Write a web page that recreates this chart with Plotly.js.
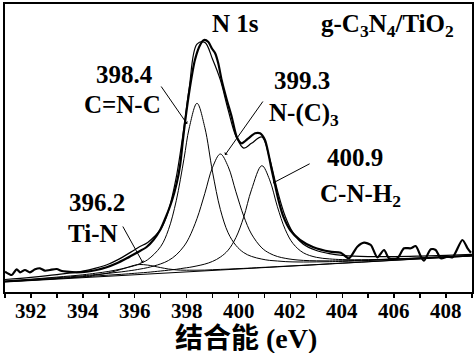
<!DOCTYPE html>
<html>
<head>
<meta charset="utf-8">
<script src="https://cdn.plot.ly/plotly-3.0.1.min.js"></script>
<style>html,body{margin:0;padding:0;background:#fff;}#chart{width:474px;height:353px;}</style>
</head>
<body>
<div id="chart"></div>
<script>
// Common energy grid for the fitted components (binding energy, eV)
const gridEV = [391,392,393,394,394.5,395,395.5,396,396.2,396.5,397,397.3,397.6,397.9,398.1,398.4,398.7,399,399.3,399.6,399.9,400.2,400.5,400.9,401.2,401.5,401.8,402.1,402.5,403,403.5,404,405,406,407,408,409];
// Background (linear) intensity, a.u.
const background = [10.0,11.4,12.9,14.3,15.1,15.8,16.5,17.2,17.5,17.9,18.7,19.1,19.5,20.0,20.3,20.7,21.1,21.6,22.0,22.4,22.9,23.3,23.7,24.3,24.7,25.2,25.6,26.0,26.6,27.3,28.1,28.8,30.2,31.7,33.1,34.6,36.0];
// Component intensities above background
const compTiN  = [0.2,0.3,0.5,1.1,1.8,3.4,6.3,9.6,10.0,9.0,5.7,3.9,2.6,1.8,1.5,1.1,0.8,0.7,0.6,0.5,0.4,0.3,0.3,0.3,0.2,0.2,0.2,0.2,0.1,0.1,0.1,0.1,0.1,0.1,0.1,0,0];
const compCNC  = [1.1,1.4,2.0,2.9,3.7,4.8,6.7,9.2,10.9,14.4,26.7,43.2,71.7,113.4,143.6,168,143.6,98.3,60.6,36.8,23.7,16.1,11.9,8.6,6.9,5.8,4.8,4.1,3.4,2.8,2.2,1.8,1.3,1.0,0.8,0.6,0.5];
const compNC3  = [0.8,1.1,1.4,1.9,2.4,2.9,3.7,4.8,5.4,6.5,9.4,12.4,17.6,25.9,34.3,52.7,77.3,103.1,116,103.1,77.3,52.7,34.3,19.8,14.0,10.3,8.1,6.5,5.0,3.9,3.0,2.4,1.7,1.2,0.9,0.7,0.6];
const compCNH2 = [0.4,0.5,0.6,0.7,0.9,1.1,1.2,1.5,1.6,1.8,2.3,2.7,3.2,3.9,4.3,5.4,6.8,9.0,12.9,19.4,31.5,51.5,78.5,102,87.5,60.0,37.0,22.5,12.6,7.4,5.0,3.6,2.1,1.4,1.0,0.7,0.5];
// Measured spectrum
const dataEV = [391.0,391.26,391.45,391.58,391.77,391.96,392.16,392.35,392.54,392.73,392.99,393.19,393.38,393.76,394.15,394.53,394.92,395.31,395.69,396.08,396.46,396.72,396.98,397.2,397.43,397.62,397.75,397.85,397.94,398.13,398.32,398.52,398.67,398.84,398.97,399.1,399.22,399.35,399.55,399.74,399.93,400.12,400.38,400.64,400.83,401.02,401.15,401.28,401.41,401.54,401.73,401.99,402.37,402.89,403.53,403.94,404.26,404.58,404.84,405.1,405.35,405.61,405.8,406.12,406.38,406.64,406.83,407.02,407.15,407.41,407.6,407.8,408.05,408.25,408.63,408.83,408.96];
const dataI  = [20.3,17,22.7,19.7,22,19.7,22.7,23.7,21.3,22,23,21,20.3,19.7,20.3,22,24.7,28.7,33.7,39.3,45,52,62,75,91,109,127,150,170,205,232,247,252,250,243.7,238.7,228.7,212,192,175,155.3,148.7,153.7,158.7,158.7,152,138.7,122,107,92,75.3,62,52,44.7,40.3,39.3,33.7,45.3,49.3,47,34.7,42,33.7,33.7,43.7,43.7,46,36,31.3,42.7,42,33.7,35.3,34.7,52,43.7,39.3];
// Ticks every 1 eV; labels on even values
const tickVals = [391,392,393,394,395,396,397,398,399,400,401,402,403,404,405,406,407,408,409];
const labelVals = [392,394,396,398,400,402,404,406,408];
const labelText = ['392','394','396','398','400','402','404','406','408'];
const xTitle = '结合能 (eV)';
const labels = [
  {text:'N 1s', x:399.87, y:269},
  {text:'g-C<sub>3</sub>N<sub>4</sub>/TiO<sub>2</sub>', x:405.73, y:267},
  {text:'398.4', x:395.59, y:218},
  {text:'C=N-C', x:395.51, y:188},
  {text:'399.3', x:402.45, y:212},
  {text:'N-(C)<sub>3</sub>', x:402.53, y:178},
  {text:'400.9', x:404.49, y:135},
  {text:'C-N-H<sub>2</sub>', x:404.69, y:97},
  {text:'396.2', x:394.55, y:90},
  {text:'Ti-N', x:394.39, y:59}
];
const pointers = [
  {x:398.02, y:168, ax:396.98, ay:207},
  {x:399.48, y:137, ax:400.98, ay:192},
  {x:401.33, y:109, ax:402.80, ay:129},
  {x:396.32, y:29,  ax:395.51, ay:67}
];

const comps = [compTiN, compCNC, compNC3, compCNH2];
const traces = [];
traces.push({x:gridEV, y:background, mode:'lines', line:{color:'#000', width:1}, hoverinfo:'skip'});
comps.forEach(c => {
  traces.push({x:gridEV, y:c.map((v,i)=>v+background[i]), mode:'lines',
    line:{color:'#000', width:1, shape:'spline', smoothing:1}, hoverinfo:'skip'});
});
const fitSum = gridEV.map((_,i)=> background[i] + comps.reduce((s,c)=>s+c[i],0));
traces.push({x:gridEV, y:fitSum, mode:'lines', line:{color:'#000', width:1.2, shape:'spline', smoothing:1}, hoverinfo:'skip'});
traces.push({x:dataEV, y:dataI, mode:'lines', line:{color:'#000', width:2.2, shape:'spline', smoothing:0.7}, hoverinfo:'skip'});

const serif = 'Liberation Serif';
const annotations = labels.map(l => ({x:l.x, y:l.y, xref:'x', yref:'y', text:'<b>'+l.text+'</b>',
  showarrow:false, font:{family:serif, size:25, color:'#000'}}));
pointers.forEach(p => annotations.push({x:p.x, y:p.y, ax:p.ax, ay:p.ay, xref:'x', yref:'y', axref:'x', ayref:'y',
  text:'', showarrow:true, arrowhead:1, arrowsize:0.7, arrowwidth:1, arrowcolor:'#000'}));
// x tick labels
labelVals.forEach((v,i) => annotations.push({x:v, y:-0.066, xref:'x', yref:'paper', yanchor:'middle',
  text:'<b>'+labelText[i]+'</b>', showarrow:false, font:{family:serif, size:21, color:'#000'}}));
// x axis title
annotations.push({x:0.516, y:-0.162, xref:'paper', yref:'paper', yanchor:'middle', xanchor:'center',
  text:'<b>'+xTitle+'</b>', showarrow:false, font:{family:'Liberation Serif, Noto Sans CJK SC', size:28, color:'#000'}});

const layout = {
  width:474, height:353,
  margin:{l:5, r:2, t:4, b:61},
  paper_bgcolor:'#fff', plot_bgcolor:'#fff',
  showlegend:false,
  xaxis:{range:[391,409], tickmode:'array', tickvals:tickVals, showticklabels:false, ticks:'outside', ticklen:4, tickwidth:1.5,
    tickcolor:'#000', showline:true, linewidth:2, linecolor:'#000', mirror:true, showgrid:false, zeroline:false},
  yaxis:{range:[0,288], showticklabels:false, ticks:'', showline:true, linewidth:2, linecolor:'#000', mirror:true,
    showgrid:false, zeroline:false},
  annotations:annotations
};
Plotly.newPlot('chart', traces, layout, {displayModeBar:false, staticPlot:true});
</script>
</body>
</html>
